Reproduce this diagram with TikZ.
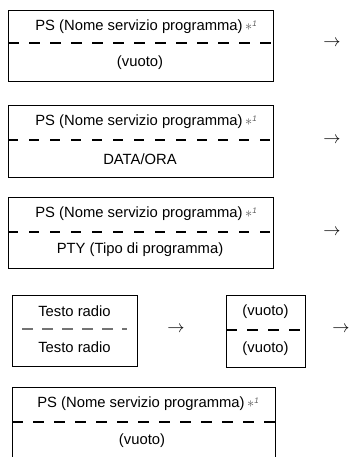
\documentclass[tikz,border=0pt]{standalone}
\usepackage{fontspec}
\setmainfont{Liberation Sans}
\usepackage{xcolor}
\usetikzlibrary{positioning}
\tikzset{
  mbox/.style={draw=black, line width=0.8pt, minimum width=265bp, minimum height=71bp, anchor=north west, inner sep=0pt},
  lbl/.style={font=\fontsize{14.8bp}{16bp}\selectfont, inner sep=0pt},
  septhick/.style={line width=2bp, dash pattern=on 11bp off 10bp},
  septhin/.style={line width=1.2bp, dash pattern=on 10bp off 11bp},
  sepgray/.style={line width=1.2bp, draw=black!55, dash pattern=on 11bp off 9bp},
  rarr/.style={font=\fontsize{17bp}{18bp}\selectfont, inner sep=0pt}
}
\newcommand{\psnote}{\rlap{\,\color{black!65}$\ast$\raisebox{0.6ex}{\footnotesize\itshape 1}}}

\begin{document}
\begin{tikzpicture}[x=1bp,y=-1bp]
\useasboundingbox (0,0) rectangle (348,457);
\clip (0,0) rectangle (348,457);
% first row
\node[mbox] (b1) at (8,10) {};
\coordinate (s1) at (8,43);
\draw[septhick] (s1) -- (s1 -| b1.east);
\node[lbl] (t1a) at (139,27) {PS (Nome servizio programma)\psnote};
\node[lbl] (t1b) at (140,63) {(vuoto)};
\node[rarr] (r1) at (332,43) {$\rightarrow$};
% second row
\node[mbox, minimum height=72bp] (b2) at (8,105) {};
\coordinate (s2) at (8,140);
\draw[septhin] (s2) -- (s2 -| b2.east);
\node[lbl] (t2a) at (139,122) {PS (Nome servizio programma)\psnote};
\node[lbl] (t2b) at (140,159) {DATA/ORA};
\node[rarr] (r2) at (332,140) {$\rightarrow$};
% third row
\node[mbox] (b3) at (8,197) {};
\coordinate (s3) at (8,232);
\draw[septhin] (s3) -- (s3 -| b3.east);
\node[lbl] (t3a) at (139,214) {PS (Nome servizio programma)\psnote};
\node[lbl] (t3b) at (140,250) {PTY (Tipo di programma)};
\node[rarr] (r3) at (332,232) {$\rightarrow$};
% radio text
\node[mbox, minimum width=125bp, minimum height=71bp] (b4) at (12,295) {};
\coordinate (s4) at (22,329);
\draw[sepgray] (s4) -- (127,329);
\node[lbl] (t4a) at (74.5,311) {Testo radio};
\node[lbl] (t4b) at (74.5,347) {Testo radio};
\node[rarr] (r4) at (176,329) {$\rightarrow$};
\node[mbox, minimum width=79bp, minimum height=72bp] (b5) at (226,295) {};
\coordinate (s5) at (226,330);
\draw[septhick] (s5) -- (s5 -| b5.east);
\node[lbl] (t5a) at (265.5,312) {(vuoto)};
\node[lbl] (t5b) at (265.5,349) {(vuoto)};
\node[rarr] (r5) at (341,329) {$\rightarrow$};
% last row
\node[mbox, minimum width=263bp, minimum height=80bp] (b6) at (12,387) {};
\coordinate (s6) at (12,422);
\draw[septhick] (s6) -- (s6 -| b6.east);
\node[lbl] (t6a) at (141,404) {PS (Nome servizio programma)\psnote};
\node[lbl] (t6b) at (142,441) {(vuoto)};
\end{tikzpicture}
\end{document}
